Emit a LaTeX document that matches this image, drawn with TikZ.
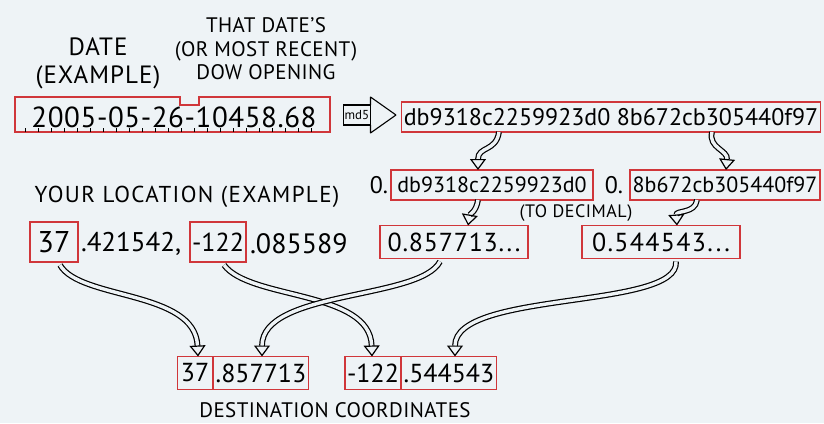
\documentclass[tikz,border=0pt]{standalone}
\usepackage{fontspec}
\setmainfont{PT Sans}
\usetikzlibrary{arrows.meta}
\definecolor{paper}{HTML}{EEF3F6}
\definecolor{boxred}{HTML}{D0363A}
\newcommand{\sz}[2]{\fontsize{#1}{1.12\dimexpr#1pt\relax}\selectfont\addfontfeatures{LetterSpace=#2}}

\begin{document}
\begin{tikzpicture}[x=1pt,y=-1pt,inner sep=0pt,outer sep=0pt,
redbox/.style={draw=boxred,rectangle,line width=1.3pt,inner sep=2pt,minimum height=30pt},
lbl/.style={font=\sz{21}{2},align=center},
fatarrow/.style={double=paper,double distance=3.4pt,line width=1.2pt,-{Triangle[open,length=11pt,width=16pt]}}]

\fill[paper] (0,0) rectangle (824,423);
\useasboundingbox (0,0) rectangle (824,423);

% labels above the date
\node[lbl,font=\sz{25}{4}] (datelbl) at (98,63) {DATE\\(EXAMPLE)};
\node[lbl] (dowlbl) at (266,49) {THAT DATE'S\\(OR MOST RECENT)\\DOW OPENING};

% the date string, with the notch and the ruler ticks
\node[font=\sz{29}{2}] (date) at (174,117) {2005-05-26-10458.68};
\draw[boxred,line width=1.3pt] (15,97) -- (180,97) -- (180,105) -- (199,105) -- (199,97) -- (330,97)
  -- (330,132) -- (15,132) -- cycle;
\foreach \x in {25,38,...,320}
  \draw[line width=.6pt] (\x,132) -- ++(0,-4);

% md5 and the hash
\node[draw,line width=1.1pt,minimum width=27pt,minimum height=20pt,font=\sz{13}{0}] (md5) at (357,115) {md5};
\draw[line width=1.1pt,line join=round] (md5.north east) -- ++(0,-8) -- (396,115);
\draw[line width=1.1pt,line join=round] (md5.south east) -- ++(0,8) -- (396,115);
\node[redbox,minimum width=413pt,font=\sz{24}{0}] (hash) at (611,117)
  {db9318c2259923d0 8b672cb305440f97};

% the two halves
\node[font=\sz{24}{0}] (zeroa) at (379,185) {0.};
\node[redbox,minimum width=202pt,font=\sz{22}{0}] (hasha) at (492,185) {db9318c2259923d0};
\node[font=\sz{24}{0}] (zerob) at (614,185) {0.};
\node[redbox,minimum width=190pt,font=\sz{22}{0}] (hashb) at (725,185) {8b672cb305440f97};
\node[font=\sz{18}{3}] (todec) at (576,213) {(TO DECIMAL)};

\draw[fatarrow] (hash.south -| 499,0) .. controls (496,152) and (478,146) .. (hasha.north -| 478,0);
\draw[fatarrow] (hash.south -| 712,0) .. controls (708,148) and (728,150) .. (hashb.north -| 726,0);

% decimals
\node[redbox,minimum width=148pt,minimum height=33pt,font=\sz{26}{3}] (deca) at (454,242) {0.857713...};
\node[redbox,minimum width=158pt,minimum height=33pt,font=\sz{26}{5}] (decb) at (661,242) {0.544543...};

\draw[fatarrow] (hasha.south -| 478,0) .. controls (476,212) and (470,214) .. (deca.north -| 468,0);
\draw[fatarrow] (hashb.south -| 697,0) .. controls (695,214) and (676,210) .. (decb.north -| 677,0);

% your location
\node[lbl,font=\sz{23}{6}] (loclbl) at (187,197) {YOUR LOCATION (EXAMPLE)};
\node[redbox,minimum width=48pt,minimum height=40pt,font=\sz{30}{0}] (lat) at (54,242) {37};
\node[font=\sz{27}{0},anchor=west] (latfrac) at (81,244) {.421542,};
\node[redbox,minimum width=52pt,minimum height=40pt,font=\sz{26}{0}] (lon) at (218,242) {-122};
\node[font=\sz{28}{0},anchor=west] (lonfrac) at (250,244) {.085589};

% destination
\node[redbox,minimum width=35pt,minimum height=33pt,font=\sz{26}{0}] (dlat) at (195,373) {37};
\node[redbox,minimum width=88pt,minimum height=33pt,font=\sz{26}{0}] (dlatf) at (261,373) {.857713};
\node[redbox,minimum width=50pt,minimum height=33pt,font=\sz{26}{0}] (dlon) at (373,373) {-122};
\node[redbox,minimum width=92pt,minimum height=33pt,font=\sz{26}{0}] (dlonf) at (449,373) {.544543};
\node[lbl] (destlbl) at (335,410) {DESTINATION COORDINATES};

\draw[fatarrow] (lat.south -| 60,0) ++(0,3) .. controls (80,300) and (195,290) .. (dlat.north -| 198,0);
\draw[fatarrow] (lon.south -| 224,0) ++(0,3) .. controls (250,300) and (370,290) .. (dlon.north -| 372,0);
\draw[fatarrow] (deca.south -| 440,0) ++(0,3) .. controls (420,300) and (262,290) .. (dlatf.north -| 262,0);
\draw[fatarrow] (decb.south -| 676,0) ++(0,3) .. controls (680,310) and (455,290) .. (dlonf.north -| 455,0);
\end{tikzpicture}
\end{document}
